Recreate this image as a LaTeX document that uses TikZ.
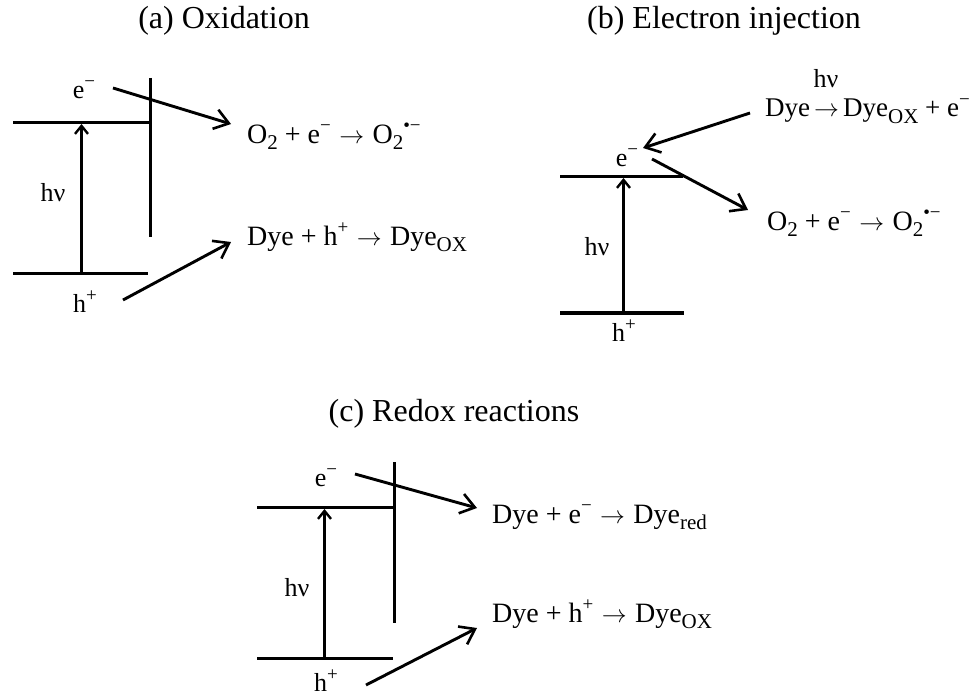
\documentclass[tikz,border=0pt]{standalone}
\usepackage{fontspec}
\setmainfont{Liberation Serif}
\usetikzlibrary{arrows.meta}
\newcommand\upsc[1]{\raisebox{0.42em}{\fontsize{19}{19}\selectfont #1}}
\newcommand\dnsc[1]{\raisebox{-0.24em}{\fontsize{21}{21}\selectfont #1}}
\newcommand\rarr{\hspace{0.3em}$\rightarrow$\hspace{0.3em}}
\newcommand\rarrt{\hspace{0.15em}$\rightarrow$\hspace{0.15em}}
\tikzset{
  ttl/.style={font=\fontsize{32}{38}\selectfont, inner sep=0pt, anchor=base},
  rxn/.style={font=\fontsize{28}{30}\selectfont, inner sep=0pt, anchor=base west},
  rxnt/.style={font=\fontsize{27}{30}\selectfont, inner sep=0pt, anchor=base west},
  lbl/.style={font=\fontsize{26}{30}\selectfont, inner sep=0pt},
  lvl/.style={line width=3pt},
  lvlthick/.style={line width=4.2pt},
  exc/.style={line width=3pt, -{Straight Barb[length=8pt,width=13pt,line width=2.4pt]}},
  xfer/.style={line width=2.9pt, -{Straight Barb[length=14pt,width=20pt,line width=2.6pt]}}
}
\begin{document}
\begin{tikzpicture}[x=1pt,y=-1pt]
\useasboundingbox (0,0) rectangle (976,698);

% ---------- (a) Oxidation ----------
\node[ttl] (ta) at (224,29) {(a) Oxidation};
\coordinate (aUL) at (13,122);  \coordinate (aUR) at (150,122);
\coordinate (aVT) at (150,78);  \coordinate (aVB) at (150,237);
\coordinate (aLL) at (13,273);  \coordinate (aLR) at (148,273);
\coordinate (aHB) at (81.5,273);  \coordinate (aHT) at (81.5,124);
\draw[lvl] (aUL) -- (aUR);
\draw[lvl] (aVT) -- (aVB);
\draw[lvl] (aLL) -- (aLR);
\draw[exc] (aHB) -- (aHT);
\node[lbl] (aE) at (84,90) {e\upsc{−}};
\node[lbl] (aHv) at (53,193) {hν};
\node[lbl] (aH) at (85,302) {h\upsc{+}};
\node[rxn] (aR1) at (247,143) {O\dnsc{2} + e\upsc{−}\rarr O\dnsc{2}\upsc{•−}};
\node[rxn] (aR2) at (247,245) {Dye + h\upsc{+}\rarr Dye\dnsc{OX}};
\coordinate (aE1) at (113,88);  \coordinate (aE2) at (231,124);
\coordinate (aH1) at (123,300); \coordinate (aH2) at (231,242);
\draw[xfer] (aE1) -- (aE2);
\draw[xfer] (aH1) -- (aH2);

% ---------- (b) Electron injection ----------
\node[ttl] (tb) at (724,29) {(b) Electron injection};
\coordinate (bUL) at (560,176); \coordinate (bUR) at (683,176);
\coordinate (bLL) at (560,313); \coordinate (bLR) at (684,313);
\coordinate (bHB) at (623.5,313); \coordinate (bHT) at (623.5,178);
\draw[lvl] (bUL) -- (bUR);
\draw[lvlthick] (bLL) -- (bLR);
\draw[exc] (bHB) -- (bHT);
\node[lbl] (bE) at (627,158) {e\upsc{−}};
\node[lbl] (bHv) at (597,247) {hν};
\node[lbl] (bH) at (624,331) {h\upsc{+}};
\node[rxn] (bR1) at (767,230) {O\dnsc{2} + e\upsc{−}\rarr O\dnsc{2}\upsc{•−}};
\node[rxnt] (bR0) at (765,117) {Dye\rarrt Dye\dnsc{OX} + e\upsc{−}};
\node[lbl, anchor=base] (bHv0) at (826,88) {hν};
\coordinate (bE1) at (652,159); \coordinate (bE2) at (748,210);
\coordinate (bI1) at (750,113); \coordinate (bI2) at (643,148);
\draw[xfer] (bE1) -- (bE2);
\draw[xfer] (bI1) -- (bI2);

% ---------- (c) Redox reactions ----------
\node[ttl] (tc) at (454,421) {(c) Redox reactions};
\coordinate (cUL) at (257,507); \coordinate (cUR) at (394,507);
\coordinate (cVT) at (394,462); \coordinate (cVB) at (394,623);
\coordinate (cLL) at (257,658); \coordinate (cLR) at (393,658);
\coordinate (cHB) at (324.5,658); \coordinate (cHT) at (324.5,509);
\draw[lvl] (cUL) -- (cUR);
\draw[lvl] (cVT) -- (cVB);
\draw[lvl] (cLL) -- (cLR);
\draw[exc] (cHB) -- (cHT);
\node[lbl] (cE) at (326,478) {e\upsc{−}};
\node[lbl] (cHv) at (297,588) {hν};
\node[lbl] (cH) at (326,681) {h\upsc{+}};
\node[rxn] (cR1) at (492,523) {Dye + e\upsc{−}\rarr Dye\dnsc{red}};
\node[rxn] (cR2) at (492,622) {Dye + h\upsc{+}\rarr Dye\dnsc{OX}};
\coordinate (cE1) at (355,474); \coordinate (cE2) at (477,508);
\coordinate (cH1) at (366,685); \coordinate (cH2) at (477,628);
\draw[xfer] (cE1) -- (cE2);
\draw[xfer] (cH1) -- (cH2);
\end{tikzpicture}
\end{document}
